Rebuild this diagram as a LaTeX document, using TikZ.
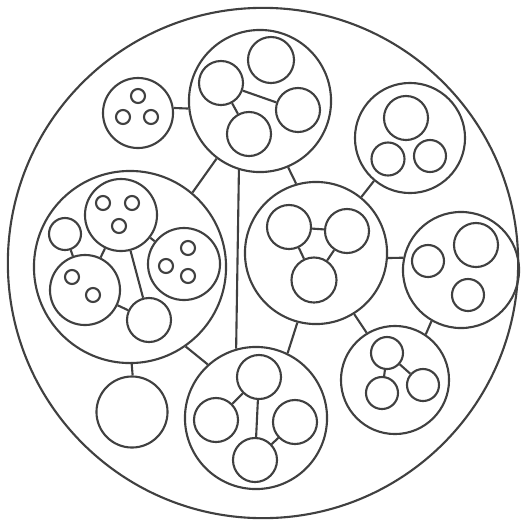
\documentclass[tikz,border=0pt]{standalone}
\begin{document}
\begin{tikzpicture}[x=0.01cm,y=-0.01cm,
  c/.style={circle,draw=black!75,line width=0.6pt,inner sep=0pt,minimum size=#1},
  l/.style={draw=black!75,line width=0.6pt}]
\useasboundingbox (0,0) rectangle (524,524);
\node[c=5.10cm] (O) at (263,263) {};
% A
\node[c=0.70cm] (A) at (138,113) {};
\node[c=0.14cm] (a1) at (138,96) {};
\node[c=0.14cm] (a2) at (123,117) {};
\node[c=0.14cm] (a3) at (151,117) {};
% B
\node[c=1.42cm] (B) at (260,101) {};
\node[c=0.46cm] (b1) at (271,60) {};
\node[c=0.44cm] (b2) at (221,83) {};
\node[c=0.44cm] (b3) at (298,110) {};
\node[c=0.44cm] (b4) at (249,134) {};
% C
\node[c=1.10cm] (C) at (410,138) {};
\node[c=0.44cm] (c1) at (406,118) {};
\node[c=0.33cm] (c2) at (388,159) {};
\node[c=0.32cm] (c3) at (430,156) {};
% D
\node[c=1.42cm] (D) at (316,253) {};
\node[c=0.44cm] (d1) at (289,227) {};
\node[c=0.44cm] (d2) at (347,231) {};
\node[c=0.45cm] (d3) at (314,280) {};
% E
\node[c=1.92cm] (E) at (130,267) {};
\node[c=0.72cm] (e1) at (121,215) {};
\node[c=0.14cm] (e1a) at (103,203) {};
\node[c=0.14cm] (e1b) at (132,203) {};
\node[c=0.14cm] (e1c) at (119,226) {};
\node[c=0.32cm] (e2) at (65,234) {};
\node[c=0.70cm] (e3) at (85,290) {};
\node[c=0.14cm] (e3a) at (72,277) {};
\node[c=0.14cm] (e3b) at (93,295) {};
\node[c=0.72cm] (e4) at (184,264) {};
\node[c=0.14cm] (e4a) at (188,248) {};
\node[c=0.14cm] (e4b) at (166,266) {};
\node[c=0.14cm] (e4c) at (188,276) {};
\node[c=0.44cm] (e5) at (149,320) {};
% F
\node[c=0.71cm] (F) at (132,412) {};
% G
\node[c=1.42cm] (G) at (256,418) {};
\node[c=0.44cm] (g1) at (259,377) {};
\node[c=0.44cm] (g2) at (216,420) {};
\node[c=0.44cm] (g3) at (295,422) {};
\node[c=0.44cm] (g4) at (255,460) {};
% H
\node[c=1.16cm] (H) at (461,270) {};
\node[c=0.44cm] (h1) at (476,245) {};
\node[c=0.32cm] (h2) at (428,261) {};
\node[c=0.32cm] (h3) at (468,295) {};
% I
\node[c=1.08cm] (I) at (395,380) {};
\node[c=0.32cm] (i1) at (387,353) {};
\node[c=0.32cm] (i2) at (382,393) {};
\node[c=0.32cm] (i3) at (423,385) {};
% inner connectors
\draw[l] (b2) -- (b3);
\draw[l] (b2) -- (b4);
\draw[l] (d1) -- (d2);
\draw[l] (d1) -- (d3);
\draw[l] (d2) -- (d3);
\draw[l] (e1) -- (e3);
\draw[l] (e2) -- (e3);
\draw[l] (e1) -- (e4);
\draw[l] (e1) -- (e5);
\draw[l] (e3) -- (e5);
\draw[l] (g1) -- (g4);
\draw[l] (g1) -- (g2);
\draw[l] (g3) -- (g4);
\draw[l] (i1) -- (i2);
\draw[l] (i1) -- (i3);
% outer connectors
\draw[l] (A.8) -- (B.186);
\draw[l] (B.293.4) -- (D.106.7);
\draw[l] (C.230.2) -- (D.51.2);
\draw[l] (E.50) -- (B.233.6);
\draw[l] (E.271) -- (F.89);
\draw[l] (E.305.1) -- (G.132.8);
\draw[l] (B.253.6) -- (G.106.4);
\draw[l] (D.255.6) -- (G.64.8);
\draw[l] (D.356) -- (H.168.3);
\draw[l] (D.302.2) -- (I.121.7);
\draw[l] (H.240.4) -- (I.56.9);
\end{tikzpicture}
\end{document}
